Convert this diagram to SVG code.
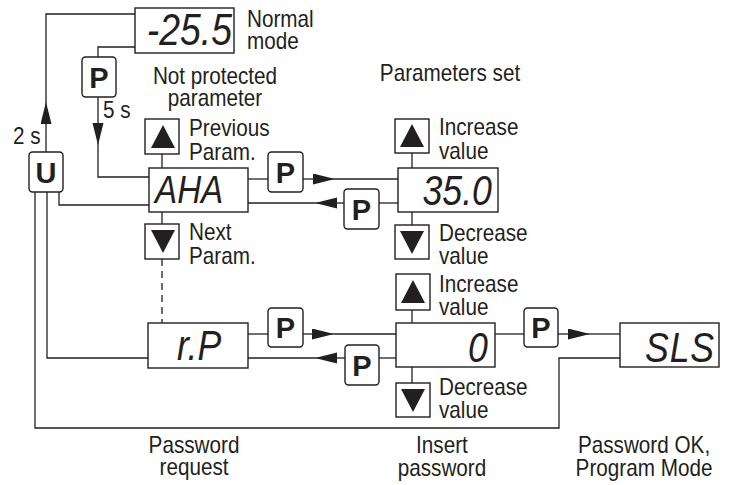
<svg xmlns="http://www.w3.org/2000/svg" width="733" height="485" viewBox="0 0 733 485">
<defs>
<style>
.ln{fill:none;stroke:#231f20;stroke-width:1.3}
.box{fill:#fff;stroke:#231f20;stroke-width:1.4}
.btn{fill:#fff;stroke:#231f20;stroke-width:1.4}
.tri{fill:#231f20}
.lbl{font-family:"Liberation Sans",Arial,sans-serif;font-size:23px;fill:#231f20}
.mid{text-anchor:middle}
.disp{font-family:"Liberation Sans",Arial,sans-serif;font-style:italic;fill:#231f20}
.key{font-family:"Liberation Sans",Arial,sans-serif;font-weight:bold;font-size:29px;fill:#231f20;text-anchor:middle}
</style>
<marker id="ah" markerUnits="userSpaceOnUse" markerWidth="22" markerHeight="12" refX="22" refY="5.5" orient="auto">
<path d="M0,0 L22,5.5 L0,11 Z" fill="#231f20"/>
</marker>
</defs>

<g id="connectors">
<line class="ln" x1="46" y1="152" x2="46" y2="102" marker-end="url(#ah)"/>
<polyline class="ln" points="46,102 46,14 135,14"/>
<polyline class="ln" points="135,47 98,47 98,57"/>
<line class="ln" x1="98" y1="97" x2="98" y2="145" marker-end="url(#ah)"/>
<polyline class="ln" points="98,145 98,177 149,177"/>
<polyline class="ln" points="59,192 59,205 149,205"/>
<polyline class="ln" points="47,192 47,358 148,358"/>
<polyline class="ln" points="35,192 35,428 559,428 559,358 620,358"/>
<line class="ln" x1="162" y1="154" x2="162" y2="168"/>
<line class="ln" x1="162" y1="212" x2="162" y2="224"/>
<line class="ln" x1="162" y1="259" x2="162" y2="323" stroke-dasharray="7,5"/>
<line class="ln" x1="248" y1="179" x2="268" y2="179"/>
<line class="ln" x1="303" y1="179" x2="335" y2="179" marker-end="url(#ah)"/>
<line class="ln" x1="335" y1="179" x2="398" y2="179"/>
<line class="ln" x1="398" y1="203" x2="379" y2="203"/>
<line class="ln" x1="344" y1="203" x2="315" y2="203" marker-end="url(#ah)"/>
<line class="ln" x1="315" y1="203" x2="248" y2="203"/>
<line class="ln" x1="412" y1="153" x2="412" y2="168"/>
<line class="ln" x1="412" y1="212" x2="412" y2="225"/>
<line class="ln" x1="248" y1="334" x2="268" y2="334"/>
<line class="ln" x1="303" y1="334" x2="334" y2="334" marker-end="url(#ah)"/>
<line class="ln" x1="334" y1="334" x2="396" y2="334"/>
<line class="ln" x1="396" y1="358" x2="379" y2="358"/>
<line class="ln" x1="345" y1="358" x2="315" y2="358" marker-end="url(#ah)"/>
<line class="ln" x1="315" y1="358" x2="248" y2="358"/>
<line class="ln" x1="412" y1="310" x2="412" y2="323"/>
<line class="ln" x1="412" y1="367" x2="412" y2="383"/>
<line class="ln" x1="495" y1="334" x2="524" y2="334"/>
<line class="ln" x1="558" y1="334" x2="590" y2="334" marker-end="url(#ah)"/>
<line class="ln" x1="590" y1="334" x2="620" y2="334"/>
</g>

<g id="node-normal">
<rect class="box" x="135" y="8" width="99" height="45"/>
<text class="disp" transform="scale(0.85,1)" x="272.9" y="45" font-size="44" text-anchor="end">-25.5</text>
<text class="lbl" transform="scale(0.9,1)" x="274.4" y="27">Normal</text>
<text class="lbl" transform="scale(0.9,1)" x="274.4" y="49">mode</text>
</g>

<g id="btn-p-enter">
<rect class="btn" x="82" y="57" width="34" height="40" rx="3.5"/>
<text class="key" x="99" y="87.5">P</text>
</g>
<text class="lbl" transform="scale(0.9,1)" x="114.4" y="118">5 s</text>

<g id="btn-u">
<rect class="btn" x="29" y="152" width="34" height="40" rx="3.5"/>
<text class="key" x="46" y="182.5">U</text>
</g>
<text class="lbl" transform="scale(0.9,1)" x="14.4" y="144">2 s</text>

<text class="lbl mid" transform="scale(0.9,1)" x="238.9" y="84">Not protected</text>
<text class="lbl mid" transform="scale(0.9,1)" x="238.9" y="106">parameter</text>
<text class="lbl mid" transform="scale(0.9,1)" x="500" y="81">Parameters set</text>

<g id="node-aha">
<rect class="box" x="149" y="168" width="99" height="44"/>
<text class="disp" transform="scale(0.85,1)" x="182.4" y="203" font-size="39">AHA</text>
</g>
<g id="btn-aha-up">
<rect class="box" x="145" y="119" width="34" height="35"/>
<polygon class="tri" points="163,125 175,148 151,148"/>
<text class="lbl" transform="scale(0.9,1)" x="210" y="136">Previous</text>
<text class="lbl" transform="scale(0.9,1)" x="210" y="160">Param.</text>
</g>
<g id="btn-aha-down">
<rect class="box" x="145" y="224" width="34" height="35"/>
<polygon class="tri" points="151,230 175,230 163,253"/>
<text class="lbl" transform="scale(0.9,1)" x="210" y="240">Next</text>
<text class="lbl" transform="scale(0.9,1)" x="210" y="264">Param.</text>
</g>

<g id="btn-p-aha-fwd">
<rect class="btn" x="268" y="152" width="35" height="40" rx="3.5"/>
<text class="key" x="285.5" y="182.5">P</text>
</g>
<g id="btn-p-aha-back">
<rect class="btn" x="344" y="189" width="35" height="40" rx="3.5"/>
<text class="key" x="361.5" y="219.5">P</text>
</g>

<g id="node-value">
<rect class="box" x="398" y="168" width="100" height="44"/>
<text class="disp" transform="scale(0.85,1)" x="578.8" y="205" font-size="42" text-anchor="end">35.0</text>
</g>
<g id="btn-val-up">
<rect class="box" x="395" y="119" width="34" height="34"/>
<polygon class="tri" points="412,124 424,147 400,147"/>
<text class="lbl" transform="scale(0.9,1)" x="487.8" y="135">Increase</text>
<text class="lbl" transform="scale(0.9,1)" x="487.8" y="159">value</text>
</g>
<g id="btn-val-down">
<rect class="box" x="395" y="225" width="34" height="34"/>
<polygon class="tri" points="400,231 424,231 412,254"/>
<text class="lbl" transform="scale(0.9,1)" x="487.8" y="241">Decrease</text>
<text class="lbl" transform="scale(0.9,1)" x="487.8" y="264">value</text>
</g>

<g id="node-rp">
<rect class="box" x="148" y="323" width="100" height="45"/>
<text class="disp" transform="scale(0.85,1)" x="208.2" y="360" font-size="42">r.P</text>
</g>
<g id="btn-p-rp-fwd">
<rect class="btn" x="268" y="308" width="35" height="39" rx="3.5"/>
<text class="key" x="285.5" y="338">P</text>
</g>
<g id="btn-p-rp-back">
<rect class="btn" x="345" y="345" width="34" height="40" rx="3.5"/>
<text class="key" x="362" y="375.5">P</text>
</g>

<g id="node-password">
<rect class="box" x="396" y="323" width="99" height="44"/>
<text class="disp" transform="scale(0.85,1)" x="574.1" y="362" font-size="42" text-anchor="end">0</text>
</g>
<g id="btn-pw-up">
<rect class="box" x="396" y="274" width="34" height="36"/>
<polygon class="tri" points="413,280 425,303 401,303"/>
<text class="lbl" transform="scale(0.9,1)" x="487.8" y="292">Increase</text>
<text class="lbl" transform="scale(0.9,1)" x="487.8" y="315">value</text>
</g>
<g id="btn-pw-down">
<rect class="box" x="396" y="383" width="34" height="34"/>
<polygon class="tri" points="401,389 425,389 413,412"/>
<text class="lbl" transform="scale(0.9,1)" x="487.8" y="395">Decrease</text>
<text class="lbl" transform="scale(0.9,1)" x="487.8" y="418">value</text>
</g>

<g id="btn-p-pw">
<rect class="btn" x="524" y="308" width="34" height="39" rx="3.5"/>
<text class="key" x="541" y="338">P</text>
</g>

<g id="node-sls">
<rect class="box" x="620" y="323" width="99" height="44"/>
<text class="disp" transform="scale(0.85,1)" x="758.8" y="362" font-size="42" letter-spacing="1">SLS</text>
</g>

<text class="lbl mid" transform="scale(0.9,1)" x="215.6" y="453">Password</text>
<text class="lbl mid" transform="scale(0.9,1)" x="215.6" y="475">request</text>
<text class="lbl mid" transform="scale(0.9,1)" x="491.1" y="453">Insert</text>
<text class="lbl mid" transform="scale(0.9,1)" x="491.1" y="476">password</text>
<text class="lbl mid" transform="scale(0.9,1)" x="715.6" y="453">Password OK,</text>
<text class="lbl mid" transform="scale(0.9,1)" x="715.6" y="476">Program Mode</text>
</svg>
